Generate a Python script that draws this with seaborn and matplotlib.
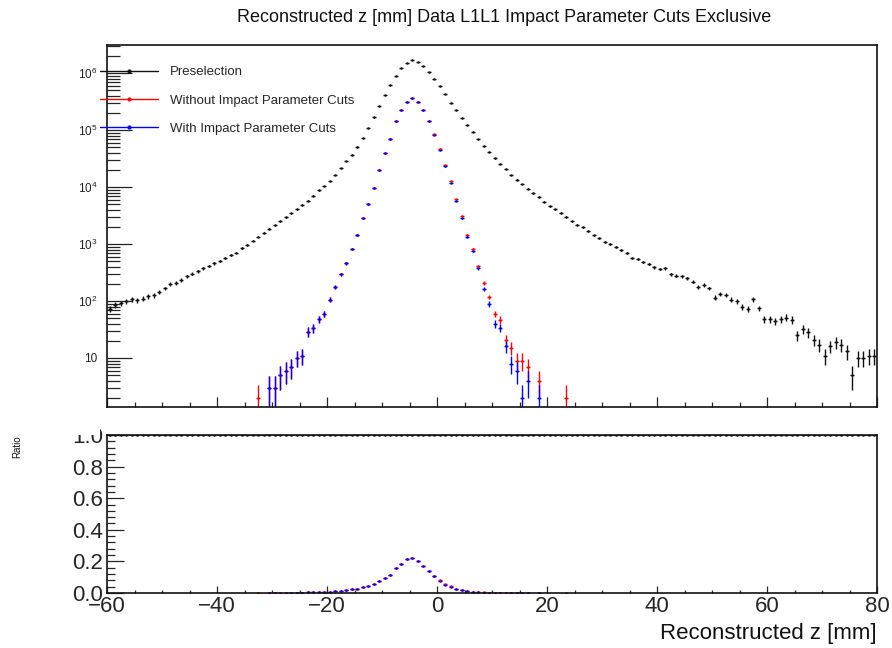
import numpy as np
import pandas as pd
import matplotlib
matplotlib.use("Agg")
import matplotlib.pyplot as plt
import seaborn as sns
from matplotlib.ticker import LogLocator, MultipleLocator, FuncFormatter, NullFormatter
from matplotlib.lines import Line2D
from matplotlib.patches import Rectangle

# Binning of the reconstructed z histogram [mm]
z_low, z_high, bin_width = -60, 80, 1
bin_centers = np.arange(z_low + bin_width / 2, z_high, bin_width)

# Preselection counts, one per 1 mm bin from -60 to 80
preselection = [
    72, 85, 91, 98, 107, 104, 110, 120, 126, 145,
    166, 199, 209, 234, 269, 302, 331, 372, 407, 457,
    501, 575, 646, 708, 851, 977, 1148, 1349, 1585, 1862,
    2138, 2512, 2951, 3467, 4074, 4898, 5754, 7079, 8710, 10470,
    12880, 16220, 21380, 28180, 37150, 51290, 72440, 109600, 166000, 263000,
    407400, 616600, 891300, 1202000, 1479000, 1660000, 1549000, 1318000, 1047000, 776200,
    588800, 426600, 302000, 223900, 162200, 123000, 91200, 69180, 52480, 41690,
    31620, 25120, 20420, 16220, 13490, 11220, 9333, 7762, 6761, 5495,
    4571, 4074, 3548, 3020, 2512, 2188, 1950, 1660, 1413, 1259,
    1096, 1000, 891, 794, 692, 575, 537, 490, 447, 389,
    363, 372, 295, 275, 269, 251, 219, 174, 191, 166,
    115, 135, 129, 105, 98, 79, 72, 107, 74, 48,
    48, 44, 48, 51, 47, 25, 32, 28, 21, 17,
    11, 16, 19, 17, 13, 5, 10, 10, 11, 11,
]

# Counts after the selection, starting at the bin centred on -32.5 mm
cut_first_center = -32.5
without_ip_cuts = [
    2, 0, 3, 3, 5, 6, 7, 10, 11, 29,
    33, 48, 60, 105, 178, 295, 457, 832, 1445, 2820,
    5131, 9768, 19946, 38874, 70792, 141310, 223870, 316240, 363050, 316180,
    223940, 144530, 84500, 47300, 24400, 12600, 6200, 3050, 1460, 810,
    405, 209, 117, 59, 47, 21, 15, 9, 9, 7,
    0, 4, 0, 0, 0, 0, 2,
]
with_ip_cuts = [
    0, 0, 3, 3, 5, 6, 7, 10, 11, 29,
    33, 48, 60, 105, 178, 295, 457, 832, 1445, 2820,
    5131, 9768, 19946, 38874, 70792, 141310, 223870, 316240, 363050, 316180,
    223940, 144530, 81270, 44660, 22915, 11748, 5752, 2817, 1348, 741,
    372, 162, 89, 40, 34, 16, 8, 6, 2, 4,
    0, 2, 0, 0, 0, 0, 0,
]

series_names = ["Preselection", "Without Impact Parameter Cuts", "With Impact Parameter Cuts"]
series_colors = ["#111111", "#ff0000", "#0000ff"]

title = "Reconstructed z [mm] Data L1L1 Impact Parameter Cuts Exclusive"
x_label = "Reconstructed z [mm]"
ratio_label = "Ratio"


def full_length(values, first_center):
    out = np.zeros(len(bin_centers))
    start = int(round(first_center - bin_centers[0]))
    out[start:start + len(values)] = values
    return out


counts = {
    series_names[0]: np.asarray(preselection, dtype=float),
    series_names[1]: full_length(without_ip_cuts, cut_first_center),
    series_names[2]: full_length(with_ip_cuts, cut_first_center),
}

sns.set_theme(style="white")
plt.rcParams["font.family"] = ["Liberation Sans", "DejaVu Sans"]
plt.rcParams["mathtext.fontset"] = "custom"
plt.rcParams["mathtext.rm"] = "Liberation Sans"
plt.rcParams["mathtext.it"] = "Liberation Sans"

W, H = 892, 648
fig = plt.figure(figsize=(W / 100, H / 100), dpi=100)
fig.patch.set_facecolor("white")
ax_top = fig.add_axes([107 / W, 1 - 407 / H, 770 / W, 362 / H])
ax_bot = fig.add_axes([107 / W, 1 - 593 / H, 770 / W, 158 / H])

half = 0.35  # half width of the horizontal bin markers [mm]

# Upper pad: event counts with Poisson errors
for name, color in zip(series_names, series_colors):
    y = counts[name]
    keep = y > 0
    x = bin_centers[keep]
    yv = y[keep]
    err = np.sqrt(yv)
    lower = np.minimum(err, yv - 1e-3)
    ax_top.errorbar(x, yv, xerr=half, yerr=[lower, err], fmt="none",
                    ecolor=color, elinewidth=1.0, capsize=0)
    df = pd.DataFrame({"z": x, "n": yv})
    sns.scatterplot(data=df, x="z", y="n", color=color, s=3, linewidth=0,
                    marker="o", ax=ax_top, legend=False)

ax_top.set_yscale("log")
ax_top.set_xlim(z_low, z_high)
ax_top.set_ylim(1.38, 3.1e6)


def log_label(v, _pos):
    p = int(round(np.log10(v)))
    if p == 1:
        return "10"
    return rf"$10^{{{p}}}$"


ax_top.yaxis.set_major_locator(LogLocator(base=10, numticks=20))
ax_top.yaxis.set_minor_locator(LogLocator(base=10, subs=np.arange(2, 10), numticks=100))
ax_top.yaxis.set_major_formatter(FuncFormatter(log_label))
ax_top.yaxis.set_minor_formatter(NullFormatter())
ax_top.xaxis.set_major_locator(MultipleLocator(20))
ax_top.xaxis.set_minor_locator(MultipleLocator(5))
ax_top.tick_params(axis="y", which="major", direction="in", length=18, width=0.9,
                   labelsize=8.5, pad=7, colors="#222222", left=True, right=False)
ax_top.tick_params(axis="y", which="minor", direction="in", length=9, width=0.9,
                   left=True, right=False)
ax_top.tick_params(axis="x", which="major", direction="in", length=7, width=0.9,
                   labelbottom=False, bottom=True, top=False)
ax_top.tick_params(axis="x", which="minor", direction="in", length=3.6, width=0.9,
                   bottom=True, top=False)
ax_top.set_xlabel("")
ax_top.set_ylabel("")

# Lower pad: ratio of each selection to the preselection
presel = counts[series_names[0]]
for name, color in zip(series_names, series_colors):
    n = counts[name]
    keep = (n > 0) & (presel > 0)
    r = n[keep] / presel[keep]
    err = np.sqrt(np.clip(r * (1 - r), 0, None) / presel[keep])
    x = bin_centers[keep]
    ax_bot.errorbar(x, r, xerr=half, yerr=err, fmt="none", ecolor=color,
                    elinewidth=1.0, capsize=0)
    df = pd.DataFrame({"z": x, "ratio": r})
    sns.scatterplot(data=df, x="z", y="ratio", color=color, s=3, linewidth=0,
                    marker="o", ax=ax_bot, legend=False)

ax_bot.set_xlim(z_low, z_high)
ax_bot.set_ylim(0, 1.0)
ax_bot.xaxis.set_major_locator(MultipleLocator(20))
ax_bot.xaxis.set_minor_locator(MultipleLocator(5))
ax_bot.yaxis.set_major_locator(MultipleLocator(0.2))
ax_bot.yaxis.set_minor_locator(MultipleLocator(0.04))
ax_bot.yaxis.set_major_formatter(FuncFormatter(lambda v, _p: f"{v:.1f}"))
ax_bot.tick_params(axis="y", which="major", direction="in", length=12, width=0.9,
                   labelsize=16, pad=3, left=True, right=False)
ax_bot.tick_params(axis="y", which="minor", direction="in", length=6, width=0.9,
                   left=True, right=False)
ax_bot.tick_params(axis="x", which="major", direction="in", length=5, width=0.9,
                   labelsize=16, pad=2, bottom=True, top=False)
ax_bot.tick_params(axis="x", which="minor", direction="in", length=2.5, width=0.9,
                   bottom=True, top=False)
ax_bot.set_xlabel("")
ax_bot.set_ylabel("")

for ax in (ax_top, ax_bot):
    for spine in ax.spines.values():
        spine.set_visible(True)
        spine.set_color("#111111")
        spine.set_linewidth(1.2)

# The upper pad's margin hides the top of the ratio axis labels
fig.add_artist(Rectangle((0, 1 - 434.5 / H), 100 / W, 24 / H, transform=fig.transFigure,
                         facecolor="white", edgecolor="none", zorder=1))

fig.text(504 / W, 1 - 18 / H, title, ha="center", va="center", fontsize=13, color="#111111")
fig.text(877 / W, 1 - 633 / H, x_label, ha="right", va="center", fontsize=16, color="#111111")
fig.text(17 / W, 1 - 447 / H, ratio_label, ha="center", va="center", fontsize=7,
         rotation=90, color="#111111")

handles = [Line2D([0], [0], color=c, lw=1.0, marker="o", ms=2) for c in series_colors]
fig.legend(handles, series_names, loc="upper left",
           bbox_to_anchor=(100 / W, 1 - 66 / H), frameon=False, fontsize=9.5,
           handlelength=4.4, handletextpad=0.9, labelspacing=1.22,
           borderpad=0, borderaxespad=0)

fig.savefig("out.png", dpi=100, facecolor="white")
